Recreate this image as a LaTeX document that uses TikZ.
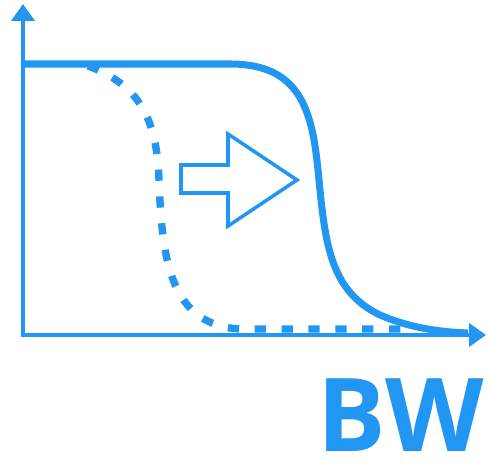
\documentclass[tikz,border=0pt]{standalone}
\usepackage{fontspec}
\setsansfont{Open Sans}
\usetikzlibrary{arrows.meta}
\definecolor{bwblue}{RGB}{33,150,243}
\tikzset{>={Triangle[length=9.6pt,width=13pt]}}
\tikzset{ax/.style={draw=bwblue,line width=2.3pt}}
\tikzset{curv/.style={draw=bwblue,line width=4pt}}
\tikzset{dcurv/.style={draw=bwblue,line width=4.2pt,dash pattern=on 6.4pt off 8.9pt}}
\tikzset{hol/.style={draw=bwblue,line width=2pt,line join=miter}}

\begin{document}
\begin{tikzpicture}[x=0.02cm,y=-0.02cm]
\useasboundingbox (0,0) rectangle (490,465);

\coordinate (O) at (23,335);
\coordinate (ytop) at (23,4);
\coordinate (xend) at (486,335);

\draw[ax,->] (O) -- (ytop);
\draw[ax,->] ([xshift=-1.1pt]O) -- (xend);

% shifted response
\draw[curv] (23,64) -- (230,64) .. controls (300,64) and (312,110) .. (318,170)
  .. controls (325,240) and (328,290) .. (380,315)
  .. controls (410,328) and (440,332) .. (468,333);

% original response
\draw[dcurv] (88,66) .. controls (140,85) and (157,120) .. (159,180)
  .. controls (162,260) and (170,325) .. (240,329) -- (405,329);

\draw[hol] (181,165) -- (228,165) -- (228,134) -- (297,180) -- (228,226)
  -- (228,193) -- (181,193) -- cycle;

\node (bw) [anchor=base east,inner sep=0pt,text=bwblue,font=\sffamily\bfseries\fontsize{58}{60}\selectfont]
  at (484,452) {BW};
\end{tikzpicture}
\end{document}
